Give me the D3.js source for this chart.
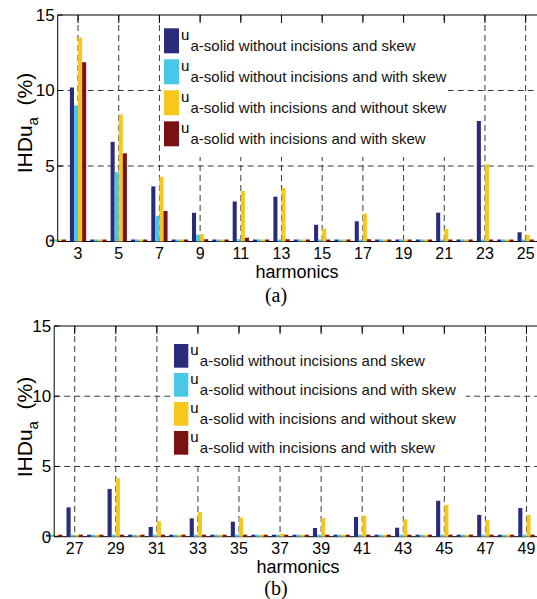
<!DOCTYPE html>
<html>
<head>
<meta charset="utf-8">
<script src="https://cdn.jsdelivr.net/npm/d3@7"></script>
<style>
  body { margin: 0; background: #fff; }
  svg { display: block; font-family: Arial, "Liberation Sans", sans-serif; }
</style>
</head>
<body>
<div id="chart"></div>
<script>
// series shared by both panels
const seriesNames = [
    "a-solid without incisions and skew",
    "a-solid without incisions and with skew",
    "a-solid with incisions and without skew",
    "a-solid with incisions and with skew"
];
const colors = ["#2b2b7b", "#48c7e6", "#f6c71c", "#7a1214"];
const yTicks = [0, 5, 10, 15];

// panel (a)
const harmonicsA = [3, 5, 7, 9, 11, 13, 15, 17, 19, 21, 23, 25];
const evenA = [2, 4, 6, 8, 10, 12, 14, 16, 18, 20, 22, 24, 26];
const noIncNoSkewA = [10.2, 6.6, 3.65, 1.9, 2.65, 2.97, 1.11, 1.34, 0.1, 1.91, 7.98, 0.61];
const noIncSkewA = [9.0, 4.6, 1.7, 0.45, 0.15, 0.12, 0.1, 0.1, 0, 0, 0, 0];
const incNoSkewA = [13.5, 8.42, 4.29, 0.48, 3.34, 3.56, 0.85, 1.84, 0.08, 0.83, 5.11, 0.45];
const incSkewA = [11.87, 5.84, 2.02, 0.15, 0.25, 0.15, 0.12, 0.15, 0.05, 0, 0, 0];

// panel (b)
const harmonicsB = [27, 29, 31, 33, 35, 37, 39, 41, 43, 45, 47, 49];
const evenB = [26, 28, 30, 32, 34, 36, 38, 40, 42, 44, 46, 48, 50];
const noIncNoSkewB = [2.09, 3.4, 0.69, 1.31, 1.07, 0.14, 0.62, 1.4, 0.64, 2.56, 1.55, 2.04];
const noIncSkewB = [0, 0, 0, 0, 0, 0, 0, 0, 0, 0, 0, 0];
const incNoSkewB = [0.08, 4.17, 1.1, 1.76, 1.36, 0.21, 1.33, 1.5, 1.24, 2.26, 1.17, 1.55];
const incSkewB = [0, 0.06, 0, 0, 0, 0, 0, 0, 0, 0, 0, 0];

const svg = d3.select("#chart").append("svg")
    .attr("width", 537)
    .attr("height", 599);

function drawPanel(cfg) {
    const g = svg.append("g");
    const x = d3.scaleLinear()
        .domain([cfg.harmonics[0] - 1, cfg.harmonics[cfg.harmonics.length - 1] + 1])
        .range([cfg.left, cfg.right]);
    const y = d3.scaleLinear()
        .domain([0, 15])
        .range([cfg.bottom, cfg.top]);

    const step = x(1) - x(0);
    const bw = step * 0.8 / 4;

    // dashed grid
    g.selectAll(".vgrid")
        .data(cfg.harmonics)
        .join("line")
        .attr("x1", d => x(d)).attr("x2", d => x(d))
        .attr("y1", cfg.top).attr("y2", cfg.bottom)
        .attr("stroke", "#222").attr("stroke-width", 0.9)
        .attr("stroke-dasharray", "6,4");
    g.selectAll(".hgrid")
        .data([5, 10])
        .join("line")
        .attr("x1", cfg.left).attr("x2", cfg.right)
        .attr("y1", d => y(d)).attr("y2", d => y(d))
        .attr("stroke", "#222").attr("stroke-width", 0.9)
        .attr("stroke-dasharray", "6,4");

    // baseline
    g.append("line")
        .attr("x1", cfg.left).attr("x2", cfg.right)
        .attr("y1", y(0)).attr("y2", y(0))
        .attr("stroke", "#000");

    // bars, zero values still show a thin stub like matlab does
    const bars = [];
    cfg.values.forEach((vals, s) => {
        vals.forEach((v, i) => bars.push({ h: cfg.harmonics[i], v, s }));
        cfg.evens.forEach(h => bars.push({ h, v: 0, s }));
    });
    g.selectAll(".bar")
        .data(bars)
        .join("rect")
        .attr("x", d => x(d.h) + (d.s - 2) * bw)
        .attr("width", bw)
        .attr("y", d => Math.min(y(d.v), y(0) - 2))
        .attr("height", d => Math.max(y(0) - y(d.v), 2))
        .attr("fill", d => colors[d.s]);

    // axes frame
    g.append("line")
        .attr("x1", cfg.left).attr("x2", cfg.right)
        .attr("y1", cfg.top).attr("y2", cfg.top)
        .attr("stroke", "#000");
    g.append("line")
        .attr("x1", cfg.left).attr("x2", cfg.left)
        .attr("y1", cfg.top).attr("y2", cfg.bottom)
        .attr("stroke", "#000");
    g.selectAll(".ttick")
        .data(cfg.harmonics)
        .join("line")
        .attr("x1", d => x(d)).attr("x2", d => x(d))
        .attr("y1", cfg.top).attr("y2", cfg.top + 8)
        .attr("stroke", "#000");
    g.selectAll(".ltick")
        .data(yTicks)
        .join("line")
        .attr("x1", cfg.left).attr("x2", cfg.left + 5)
        .attr("y1", d => y(d)).attr("y2", d => y(d))
        .attr("stroke", "#000");

    // tick labels
    g.selectAll(".xlab")
        .data(cfg.harmonics)
        .join("text")
        .attr("x", d => x(d))
        .attr("y", cfg.bottom + 17.5)
        .attr("text-anchor", "middle")
        .attr("font-size", 16)
        .text(d => d);
    g.selectAll(".ylab")
        .data(yTicks)
        .join("text")
        .attr("x", cfg.left - 3)
        .attr("y", d => y(d))
        .attr("dy", "0.35em")
        .attr("text-anchor", "end")
        .attr("font-size", 17)
        .text(d => d);

    // axis titles
    g.append("text")
        .attr("x", cfg.xTitleX)
        .attr("y", cfg.bottom + 36.5)
        .attr("text-anchor", "middle")
        .attr("font-size", 18)
        .text("harmonics");

    const yt = g.append("text")
        .attr("transform", `translate(32, ${cfg.yTitleY}) rotate(-90)`)
        .attr("text-anchor", "middle")
        .attr("font-size", 21);
    yt.append("tspan").text("IHDu");
    yt.append("tspan").attr("font-size", 15).attr("dy", 6).text("a");
    yt.append("tspan").attr("dy", -6).text("\u00a0\u00a0(%)");

    g.append("text")
        .attr("x", 276)
        .attr("y", cfg.captionY)
        .attr("text-anchor", "middle")
        .attr("font-family", "'Liberation Serif', 'Times New Roman', serif")
        .attr("font-size", 20)
        .text(cfg.caption);

    // legend
    const L = cfg.legend;
    g.append("rect")
        .attr("x", L.x).attr("y", L.y)
        .attr("width", L.w).attr("height", L.h)
        .attr("fill", "#fff");
    const items = g.selectAll(".leg")
        .data(seriesNames)
        .join("g")
        .attr("transform", (d, i) => `translate(${L.x + 3}, ${L.y + L.pad + i * L.gap})`);
    items.append("rect")
        .attr("width", L.pw).attr("height", L.ph)
        .attr("fill", (d, i) => colors[i]);
    items.append("text")
        .attr("x", L.pw + 2).attr("y", L.ph * 0.47)
        .attr("font-size", 15)
        .text("u");
    items.append("text")
        .attr("x", L.pw + 11.5).attr("y", L.ph * 0.92)
        .attr("font-size", 15)
        .attr("fill", "#111")
        .text(d => d);
}

drawPanel({
    harmonics: harmonicsA, evens: evenA,
    values: [noIncNoSkewA, noIncSkewA, incNoSkewA, incSkewA],
    left: 57.7, right: 546, top: 15, bottom: 241.5,
    xTitleX: 297, yTitleY: 123, captionY: 301.5, caption: "(a)",
    legend: { x: 161, y: 23, w: 287, h: 134, pad: 5.3, gap: 31, pw: 15, ph: 25 }
});

drawPanel({
    harmonics: harmonicsB, evens: evenB,
    values: [noIncNoSkewB, noIncSkewB, incNoSkewB, incSkewB],
    left: 54.2, right: 547, top: 326, bottom: 536.7,
    xTitleX: 298, yTitleY: 427, captionY: 595, caption: "(b)",
    legend: { x: 171, y: 335, w: 295, h: 129, pad: 9, gap: 29, pw: 14.3, ph: 23.7 }
});
</script>
</body>
</html>
